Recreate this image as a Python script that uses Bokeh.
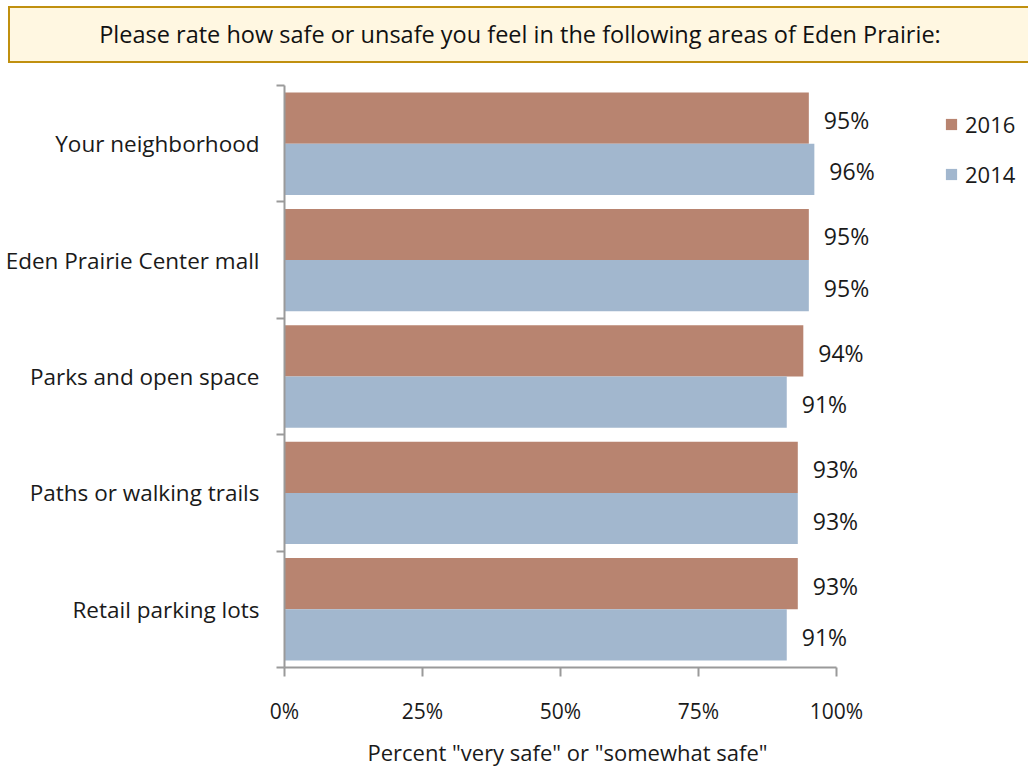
from bokeh.plotting import figure
from bokeh.models import (Range1d, FixedTicker, PrintfTickFormatter, ColumnDataSource,
                          LabelSet, Legend, LegendItem, Div, Title)
from bokeh.layouts import column
from bokeh.core.properties import value
from bokeh.embed import file_html
from bokeh.resources import INLINE

categories = ["Your neighborhood", "Eden Prairie Center mall", "Parks and open space",
              "Paths or walking trails", "Retail parking lots"]
values_2016 = [95, 95, 94, 93, 93]
values_2014 = [96, 95, 91, 93, 91]
series_names = ["2016", "2014"]
x_ticks = [0, 25, 50, 75, 100]
title_text = "Please rate how safe or unsafe you feel in the following areas of Eden Prairie:"
x_label = 'Percent "very safe" or "somewhat safe"'

FONT = "Open Sans"
C2016 = "#B88470"
C2014 = "#A2B7CE"
AXIS_C = "#9A9A9A"
TXT = "#1A1A1A"

n = len(categories)
centers = [n - 0.5 - i for i in range(n)]
BAR_H = 0.44

src16 = ColumnDataSource(dict(y=[c + BAR_H / 2 for c in centers], v=values_2016,
                              t=[f"{v}%" for v in values_2016]))
src14 = ColumnDataSource(dict(y=[c - BAR_H / 2 for c in centers], v=values_2014,
                              t=[f"{v}%" for v in values_2014]))

DIV_H = 66
FIG_H = 774 - DIV_H
FRAME_LEFT = 284
X_END = 134.8
LABEL_OFFSET = 83  # px from the frame's left edge to the start of the axis title

div = Div(text=f'<div style="position:absolute; left:8px; top:6px; width:1022px; height:57px; '
               f'box-sizing:border-box; background:#FFF7E1; border:2px solid #C0900F; border-right:none; '
               f'display:flex; align-items:center; justify-content:center; '
               f'font-family:\'Open Sans\'; font-size:23.5px; color:#111;">{title_text}</div>',
          width=1028, height=DIV_H, margin=(0, 0, 0, 0),
          styles={"position": "relative", "overflow": "hidden"})

p = figure(width=1028, height=FIG_H, output_backend="svg", toolbar_location=None,
           x_range=Range1d(0, X_END), y_range=Range1d(0, n),
           min_border_left=FRAME_LEFT, min_border_right=0, min_border_top=85 - DIV_H,
           min_border_bottom=106, margin=(0, 0, 0, 0))
p.outline_line_color = None
p.xgrid.visible = False
p.ygrid.visible = False

r16 = p.hbar(y="y", height=BAR_H, left=0, right="v", source=src16, fill_color=C2016, line_color=None)
r14 = p.hbar(y="y", height=BAR_H, left=0, right="v", source=src14, fill_color=C2014, line_color=None)

# x axis
xa = p.xaxis[0]
xa.ticker = FixedTicker(ticks=x_ticks)
xa.bounds = (x_ticks[0], x_ticks[-1])
xa.formatter = PrintfTickFormatter(format="%d%%")
xa.axis_line_color = AXIS_C
xa.axis_line_width = 2
xa.major_tick_line_color = AXIS_C
xa.major_tick_line_width = 2
xa.major_tick_out = 9
xa.major_tick_in = 0
xa.minor_tick_line_color = None
xa.major_label_text_font = FONT
xa.major_label_text_font_size = "21px"
xa.major_label_text_color = TXT
xa.major_label_standoff = 20

p.add_layout(Title(text=x_label, align="left", offset=LABEL_OFFSET, standoff=15,
                   text_font=FONT, text_font_size="22px", text_font_style="normal",
                   text_color=TXT), "below")

# y axis: labels at category centres, tick marks at category boundaries
ya = p.yaxis[0]
ya.ticker = FixedTicker(ticks=centers, minor_ticks=list(range(n + 1)))
ya.major_label_overrides = {c: cat for c, cat in zip(centers, categories)}
ya.axis_line_color = AXIS_C
ya.axis_line_width = 2
ya.major_tick_line_color = None
ya.major_tick_out = 0
ya.major_tick_in = 0
ya.minor_tick_line_color = AXIS_C
ya.minor_tick_line_width = 2
ya.minor_tick_out = 8
ya.minor_tick_in = 0
ya.major_label_standoff = 17
ya.major_label_text_font = FONT
ya.major_label_text_font_size = "22.5px"
ya.major_label_text_color = TXT

# data labels
for s in (src16, src14):
    p.add_layout(LabelSet(x="v", y="y", text="t", source=s, x_offset=15, y_offset=-2,
                          text_align="left", text_baseline="middle",
                          text_font=value(FONT), text_font_size="23px", text_color=TXT))

# legend
legend = Legend(items=[LegendItem(label=series_names[0], renderers=[r16]),
                       LegendItem(label=series_names[1], renderers=[r14])],
                location=(660, 478), orientation="vertical",
                glyph_width=14, glyph_height=14, label_standoff=7, label_height=20,
                spacing=20, padding=0, margin=0, border_line_color=None,
                background_fill_alpha=0,
                label_text_font=FONT, label_text_font_size="22px", label_text_color=TXT)
p.add_layout(legend)

open("out.html", "w").write(file_html(column(div, p, spacing=0), INLINE))
